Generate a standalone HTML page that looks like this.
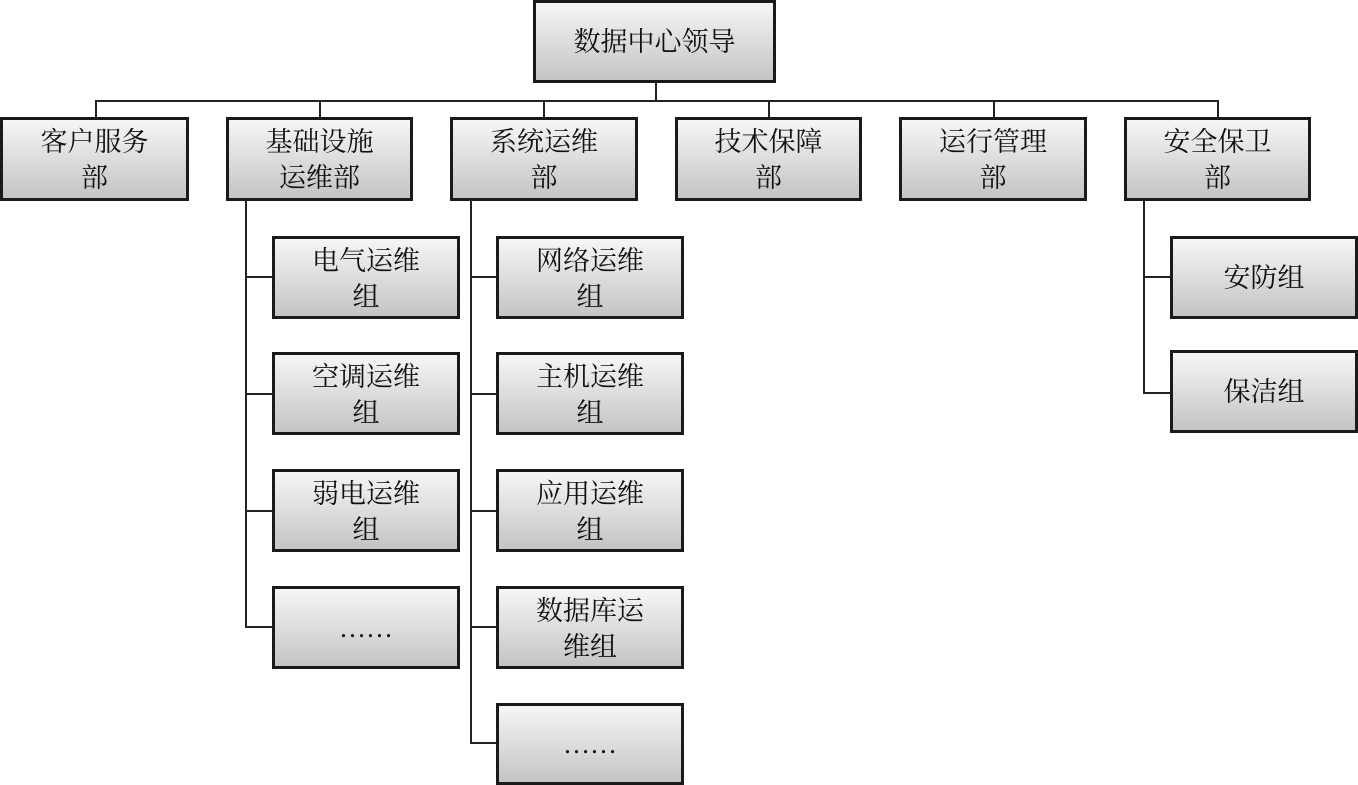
<!DOCTYPE html>
<html><head><meta charset="utf-8"><style>
body{margin:0;width:1358px;height:785px;background:#fff;position:relative;overflow:hidden;font-family:"Liberation Serif","Noto Serif CJK SC",serif;}
.b{position:absolute;box-sizing:border-box;border:3px solid #1a1a1a;background:linear-gradient(#f6f6f6,#c4c4c4);text-align:center;font-size:27px;line-height:36px;color:#111;padding-top:4px;}
.l{position:absolute;background:#222;}
.one{padding-top:0;display:flex;align-items:center;justify-content:center;}
</style></head><body>
<div class="b one" style="left:533px;top:0;width:243px;height:83px;">数据中心领导</div>
<div class="l" style="left:655px;top:82px;width:1.5px;height:19px"></div>
<div class="l" style="left:95px;top:100px;width:1123px;height:1.5px"></div>
<div class="l" style="left:95px;top:100px;width:1.5px;height:18px"></div>
<div class="l" style="left:319px;top:100px;width:1.5px;height:18px"></div>
<div class="l" style="left:543px;top:100px;width:1.5px;height:18px"></div>
<div class="l" style="left:768px;top:100px;width:1.5px;height:18px"></div>
<div class="l" style="left:993px;top:100px;width:1.5px;height:18px"></div>
<div class="l" style="left:1217px;top:100px;width:1.5px;height:18px"></div>

<div class="b" style="left:0;top:117px;width:189px;height:84px;">客户服务<br>部</div>
<div class="b" style="left:226px;top:117px;width:187px;height:84px;">基础设施<br>运维部</div>
<div class="b" style="left:450px;top:117px;width:188px;height:84px;">系统运维<br>部</div>
<div class="b" style="left:675px;top:117px;width:187px;height:84px;">技术保障<br>部</div>
<div class="b" style="left:899px;top:117px;width:188px;height:84px;">运行管理<br>部</div>
<div class="b" style="left:1124px;top:117px;width:187px;height:84px;">安全保卫<br>部</div>

<div class="l" style="left:245px;top:200px;width:1.5px;height:427px"></div>
<div class="l" style="left:245px;top:276px;width:28px;height:1.5px"></div>
<div class="l" style="left:245px;top:393px;width:28px;height:1.5px"></div>
<div class="l" style="left:245px;top:510px;width:28px;height:1.5px"></div>
<div class="l" style="left:245px;top:626px;width:28px;height:1.5px"></div>
<div class="b" style="left:272px;top:236px;width:188px;height:83px;">电气运维<br>组</div>
<div class="b" style="left:272px;top:352px;width:188px;height:83px;">空调运维<br>组</div>
<div class="b" style="left:272px;top:469px;width:188px;height:83px;">弱电运维<br>组</div>
<div class="b one" style="left:272px;top:586px;width:188px;height:83px;">……</div>

<div class="l" style="left:470px;top:200px;width:1.5px;height:543px"></div>
<div class="l" style="left:470px;top:276px;width:27px;height:1.5px"></div>
<div class="l" style="left:470px;top:393px;width:27px;height:1.5px"></div>
<div class="l" style="left:470px;top:510px;width:27px;height:1.5px"></div>
<div class="l" style="left:470px;top:626px;width:27px;height:1.5px"></div>
<div class="l" style="left:470px;top:742px;width:27px;height:1.5px"></div>
<div class="b" style="left:496px;top:236px;width:188px;height:83px;">网络运维<br>组</div>
<div class="b" style="left:496px;top:352px;width:188px;height:83px;">主机运维<br>组</div>
<div class="b" style="left:496px;top:469px;width:188px;height:83px;">应用运维<br>组</div>
<div class="b" style="left:496px;top:586px;width:188px;height:83px;">数据库运<br>维组</div>
<div class="b one" style="left:496px;top:703px;width:188px;height:82px;">……</div>

<div class="l" style="left:1143px;top:200px;width:1.5px;height:193px"></div>
<div class="l" style="left:1143px;top:276px;width:28px;height:1.5px"></div>
<div class="l" style="left:1143px;top:392px;width:28px;height:1.5px"></div>
<div class="b one" style="left:1170px;top:236px;width:188px;height:83px;">安防组</div>
<div class="b one" style="left:1170px;top:350px;width:188px;height:83px;">保洁组</div>
</body></html>
